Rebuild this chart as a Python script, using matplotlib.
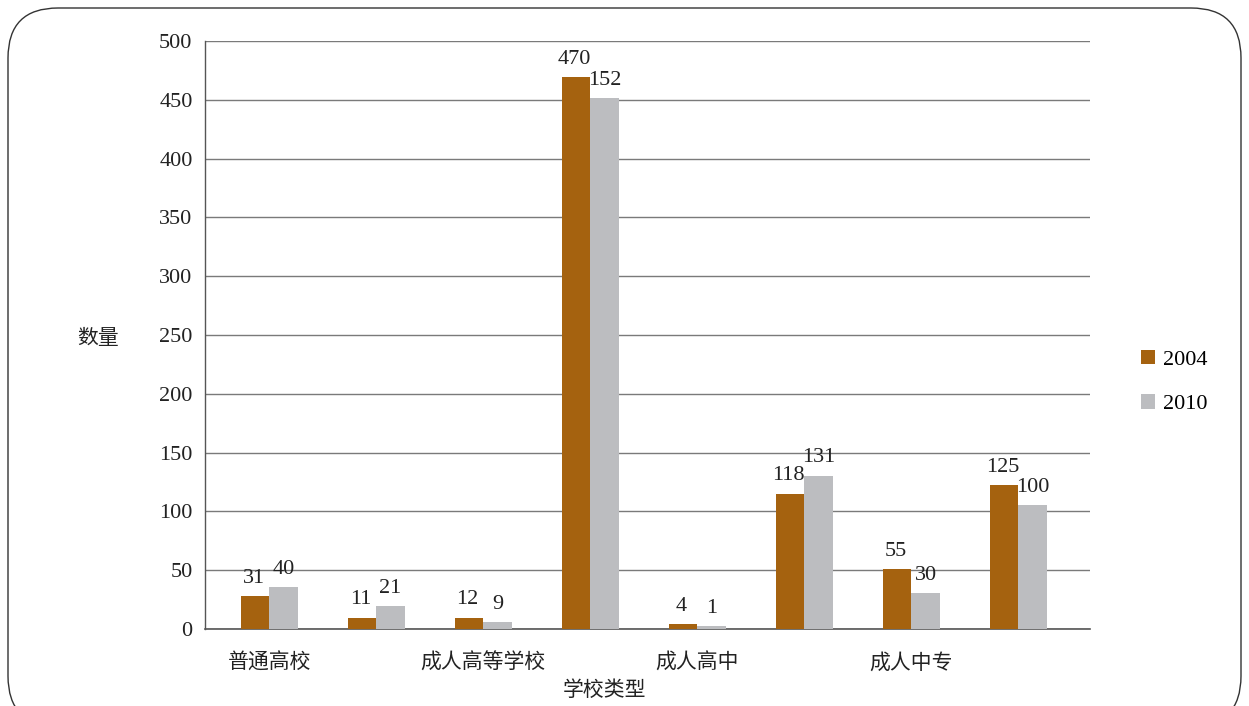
import matplotlib
matplotlib.use("Agg")
import matplotlib.pyplot as plt
import numpy as np
from matplotlib.patches import FancyBboxPatch

categories = ["普通高校", "", "成人高等学校", "", "成人高中", "", "成人中专", ""]
series_names = ["2004", "2010"]
values_2004 = [28, 9.5, 9.5, 469, 4.3, 115, 51, 122.5]
values_2010 = [35.7, 19.6, 6, 451.5, 2.6, 130.5, 30.6, 105.5]
labels_2004 = ["31", "11", "12", "470", "4", "118", "55", "125"]
labels_2010 = ["40", "21", "9", "152", "1", "131", "30", "100"]
yticks = [0, 50, 100, 150, 200, 250, 300, 350, 400, 450, 500]

c2004 = "#A5620F"
c2010 = "#BCBDC0"
serif = ["Liberation Serif", "DejaVu Serif"]
cjk = ["Noto Sans CJK SC", "DejaVu Sans"]

fig = plt.figure(figsize=(12.49, 7.06), dpi=100)
ax = fig.add_axes([205/1249, 1-629/706, (1090-205)/1249, (629-41)/706])

x = np.arange(len(categories))
w = 0.267
b1 = ax.bar(x - w/2, values_2004, w, color=c2004, label=series_names[0], zorder=3)
b2 = ax.bar(x + w/2, values_2010, w, color=c2010, label=series_names[1], zorder=3)

for rect, lab in zip(b1, labels_2004):
    ax.annotate(lab, (rect.get_x() + rect.get_width()/2, rect.get_height()),
                xytext=(-1, 6), textcoords="offset points", ha="center", va="bottom",
                fontsize=16, family=serif, color="#222222")
for rect, lab in zip(b2, labels_2010):
    ax.annotate(lab, (rect.get_x() + rect.get_width()/2, rect.get_height()),
                xytext=(0, 6), textcoords="offset points", ha="center", va="bottom",
                fontsize=16, family=serif, color="#222222")

ax.set_xlim(-0.6, 7.67)
ax.set_ylim(0, 500)
ax.set_yticks(yticks)
ax.set_yticklabels([str(t) for t in yticks], family=serif, fontsize=16, color="#222222")
ax.set_xticks(x)
ax.set_xticklabels(categories, family=cjk, fontsize=15, color="#222222")
ax.tick_params(axis="y", length=0, pad=9)
ax.tick_params(axis="x", length=0, pad=16)
ax.yaxis.grid(True, color="#7a7a7a", linewidth=1.0, zorder=0)
ax.set_axisbelow(True)
for s in ["top", "right"]:
    ax.spines[s].set_visible(False)
ax.spines["left"].set_color("#555555")
ax.spines["bottom"].set_color("#555555")
ax.spines["left"].set_linewidth(1.0)
ax.spines["bottom"].set_linewidth(1.2)

fig.text(605/1249, 1-690/706, "学校类型", family=cjk, fontsize=15, ha="center", va="center", color="#222222")
fig.text(98/1249, 1-338/706, "数量", family=cjk, fontsize=15, ha="center", va="center", color="#222222")

leg = fig.legend(handles=[b1, b2], labels=series_names, loc="center left",
                 bbox_to_anchor=(1121/1249, 1-382/706), frameon=False,
                 prop={"family": serif, "size": 16}, handlelength=0.65, handleheight=0.65,
                 labelspacing=1.1, handletextpad=0.35)

border = FancyBboxPatch((8/1249, -20/706), (1241-8)/1249, (706+20-8)/706,
                        boxstyle="round,pad=0,rounding_size=0.04",
                        transform=fig.transFigure, fill=False, edgecolor="#333333",
                        linewidth=1.0, mutation_aspect=1249/706)
fig.patches.append(border)

fig.savefig("out.png", dpi=100)
